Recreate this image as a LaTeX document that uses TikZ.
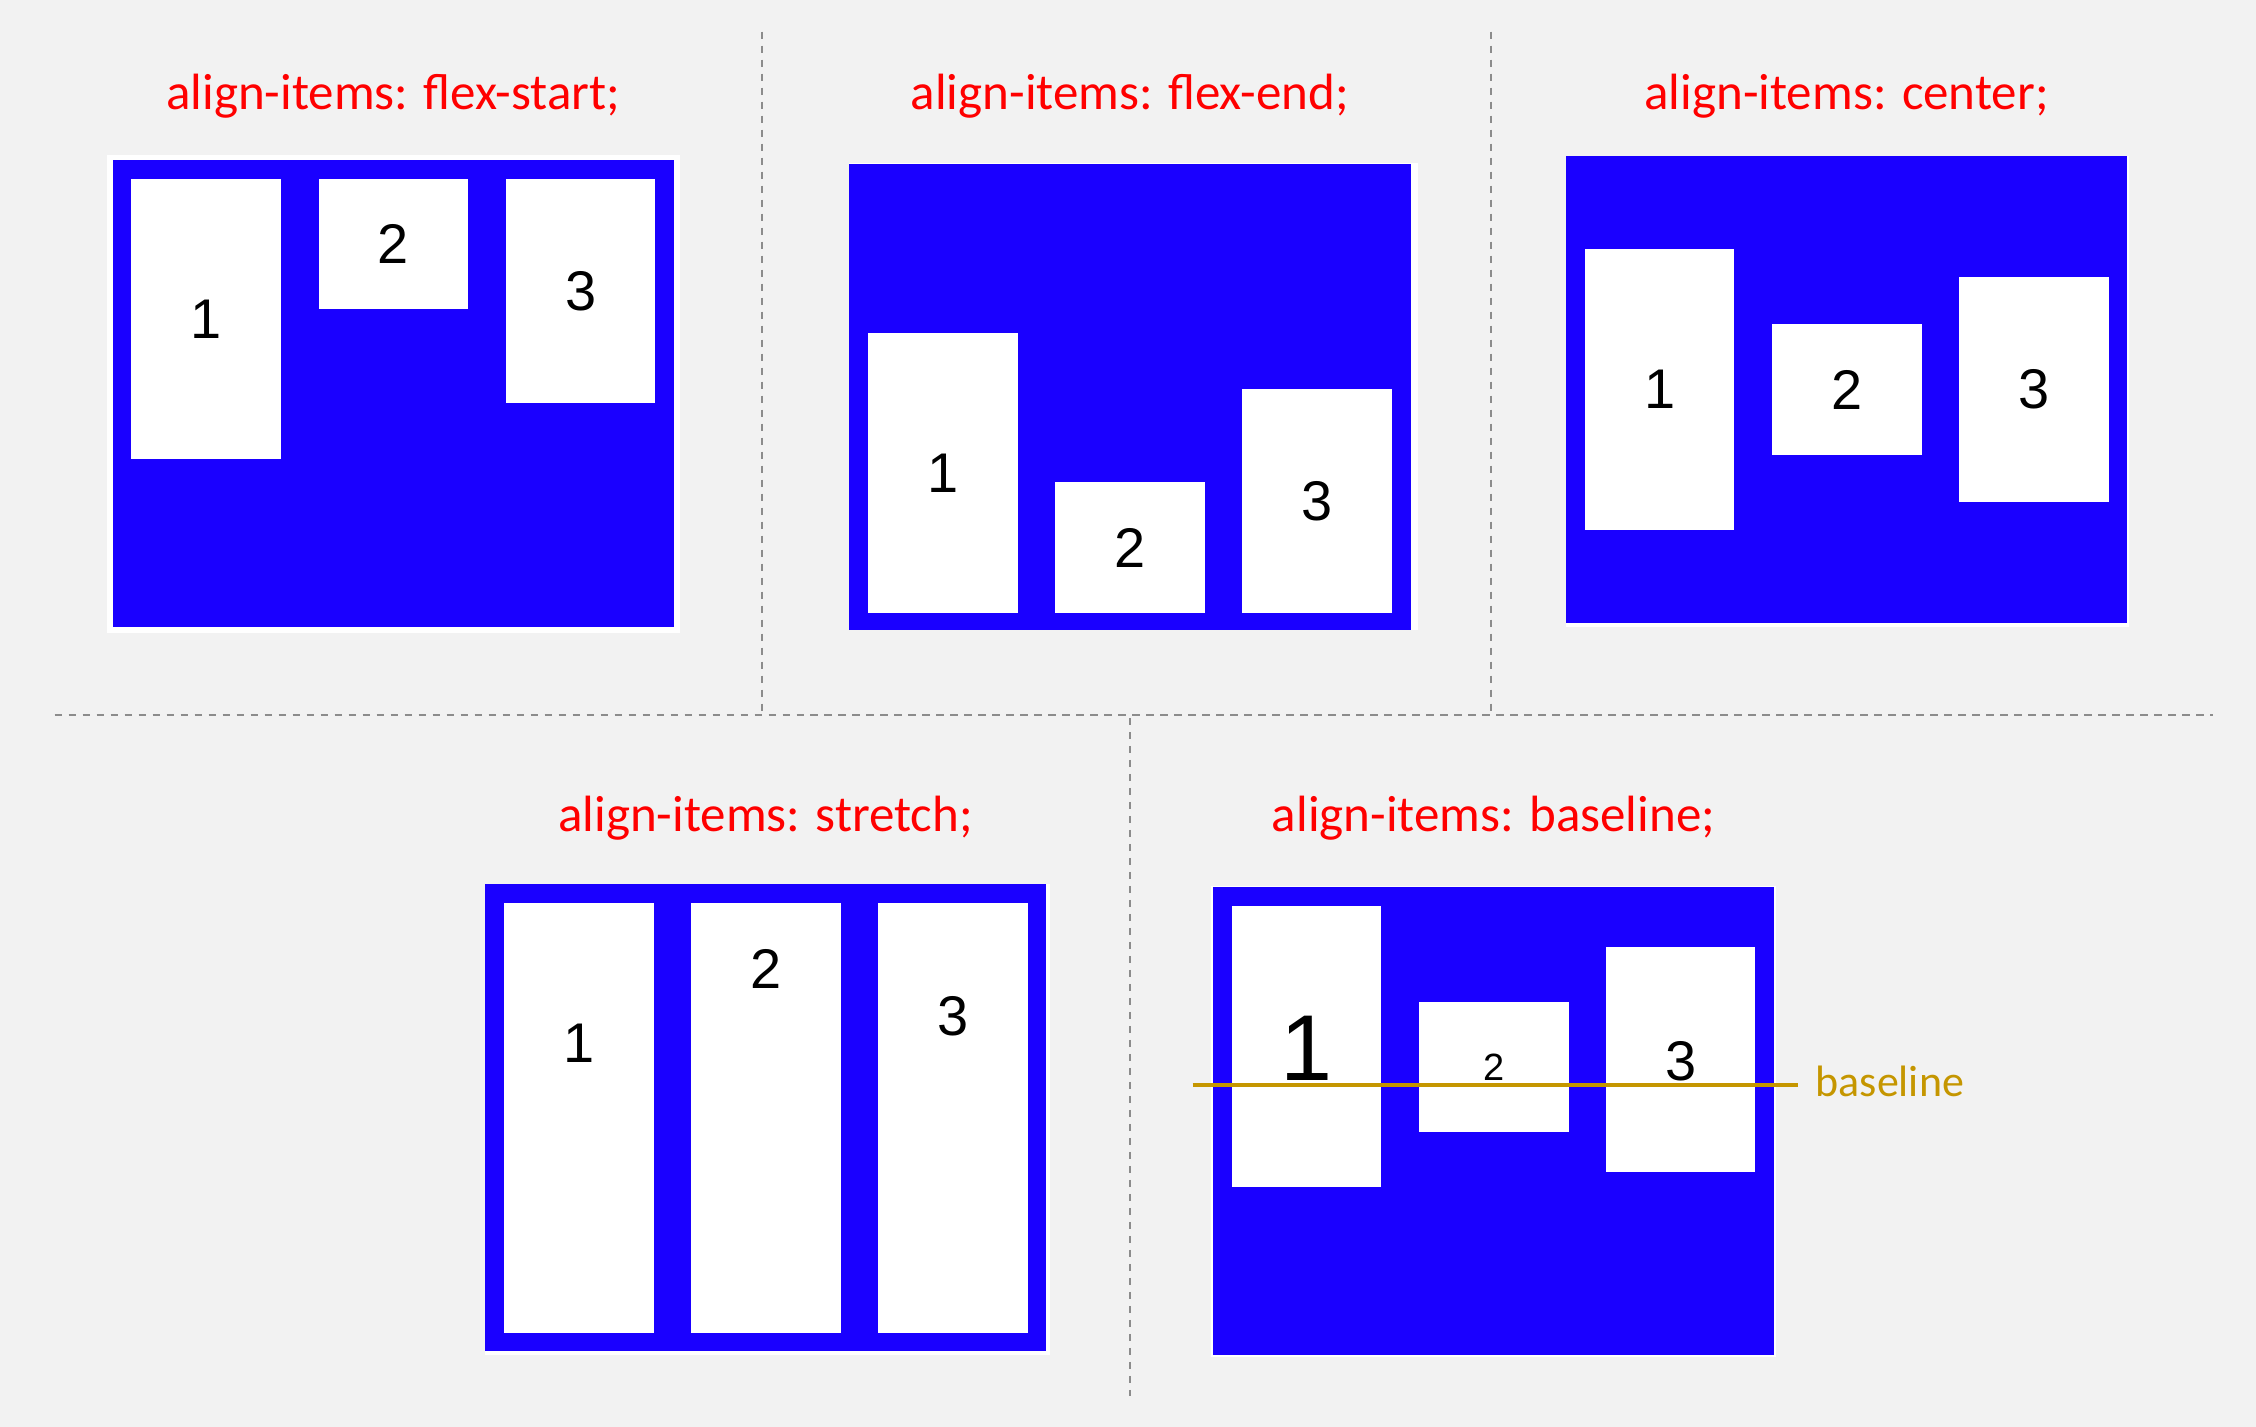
\documentclass[tikz,border=0pt]{standalone}
\usepackage{fontspec}
\setmainfont{Liberation Sans}
\newfontfamily\titlefont{Carlito}
\definecolor{bg}{RGB}{242,242,242}
\definecolor{flexblue}{RGB}{26,0,255}
\definecolor{gold}{RGB}{197,150,0}
\definecolor{dashgray}{RGB}{140,140,140}
\tikzset{
  title/.style={font=\titlefont\fontsize{14.5}{17}\selectfont, text=red, anchor=base, inner sep=0pt},
  digit/.style={font=\fontsize{15.9}{18}\selectfont, inner sep=0pt},
  sep/.style={draw=dashgray, line width=0.57pt, dash pattern=on 2.13pt off 1.85pt},
  container/.style={fill=flexblue},
  itembox/.style={fill=white},
}
\begin{document}
\begin{tikzpicture}[x=0.01cm,y=-0.01cm]
\fill[bg] (0,0) rectangle (2256,1427);
\useasboundingbox (0,0) rectangle (2256,1427);

% dashed separators
\coordinate (v1a) at (762,31.7);  \coordinate (v1b) at (762,712);
\coordinate (v2a) at (1490.6,31.7); \coordinate (v2b) at (1490.6,712);
\coordinate (ha) at (54.7,715);   \coordinate (hb) at (2213,715);
\coordinate (v3a) at (1130,718);  \coordinate (v3b) at (1130,1395.6);
\draw[sep] (v1a) -- (v1b);
\draw[sep] (v2a) -- (v2b);
\draw[sep] (ha) -- (hb);
\draw[sep] (v3a) -- (v3b);

% titles
\node[title] (t1) at (393.3,110) {align-items: flex-start;};
\node[title] (t2) at (1129.8,110) {align-items: flex-end;};
\node[title] (t3) at (1846.6,110) {align-items: center;};
\node[title] (t4) at (765.6,831.7) {align-items: stretch;};
\node[title] (t5) at (1493.6,831.7) {align-items: baseline;};

% panel 1: flex-start
\fill[white] (107.3,155) rectangle (679.7,633);
\fill[container] (112.6,160) rectangle (674,627);
\fill[itembox] (131.4,178.7) rectangle +(149.6,280.6);
\fill[itembox] (318.6,178.7) rectangle +(149.6,130.6);
\fill[itembox] (505.8,178.7) rectangle +(149.6,224.6);
\node[digit] (a1) at (206.2,319) {1};
\node[digit] (a2) at (393.4,244) {2};
\node[digit] (a3) at (580.6,291) {3};

% panel 2: flex-end
\fill[white] (849.1,162.7) rectangle (1418,630);
\fill[container] (849.1,164.3) rectangle (1410.5,630);
\fill[itembox] (867.9,332.7) rectangle (1017.5,613.3);
\fill[itembox] (1055,482.3) rectangle (1204.6,613.3);
\fill[itembox] (1242.1,389) rectangle (1391.7,613.3);
\node[digit] (b1) at (942.7,473) {1};
\node[digit] (b2) at (1129.8,547.8) {2};
\node[digit] (b3) at (1316.9,501.2) {3};

% panel 3: center
\fill[white] (1566.1,156) rectangle (2129,627);
\fill[container] (1566.1,156) rectangle (2127,623.3);
\fill[itembox] (1584.8,249.3) rectangle (1734.4,530);
\fill[itembox] (1771.9,324.3) rectangle (1921.5,455);
\fill[itembox] (1959,277.3) rectangle (2108.6,502);
\node[digit] (c1) at (1659.6,389.65) {1};
\node[digit] (c2) at (1846.7,389.65) {2};
\node[digit] (c3) at (2033.8,389.65) {3};

% panel 4: stretch
\fill[white] (484.9,884.3) rectangle (1050,1355);
\fill[container] (484.9,884.3) rectangle (1046.3,1351.3);
\fill[itembox] (504,903.3) rectangle (653.6,1332.7);
\fill[itembox] (691.2,903.3) rectangle (840.8,1332.7);
\fill[itembox] (877.9,903.3) rectangle (1027.5,1332.7);
\node[digit] (d1) at (578.8,1043.3) {1};
\node[digit] (d2) at (766,969.3) {2};
\node[digit] (d3) at (952.7,1016) {3};

% panel 5: baseline
\fill[white] (1211,885.5) rectangle (1776,1357);
\fill[container] (1213,887.3) rectangle (1774.2,1355);
\fill[itembox] (1231.8,906.3) rectangle (1381.4,1186.7);
\fill[itembox] (1419.1,1001.7) rectangle (1568.7,1132.3);
\fill[itembox] (1605.8,947.3) rectangle (1755.4,1171.7);
\node[digit, anchor=base, font=\fontsize{26.6}{30}\selectfont] (e1) at (1306.6,1080) {1};
\node[digit, anchor=base, font=\fontsize{10.8}{13}\selectfont] (e2) at (1493.9,1080) {2};
\node[digit, anchor=base] (e3) at (1680.6,1080) {3};
\coordinate (bla) at (1192.6,1085);
\coordinate (blb) at (1798.2,1085);
\draw[gold, line width=1.14pt] (bla) -- (blb);
\node[anchor=base west, inner sep=0pt, text=gold, font=\titlefont\fontsize{12.5}{15}\selectfont] (bl) at (1815,1096) {baseline};
\end{tikzpicture}
\end{document}
